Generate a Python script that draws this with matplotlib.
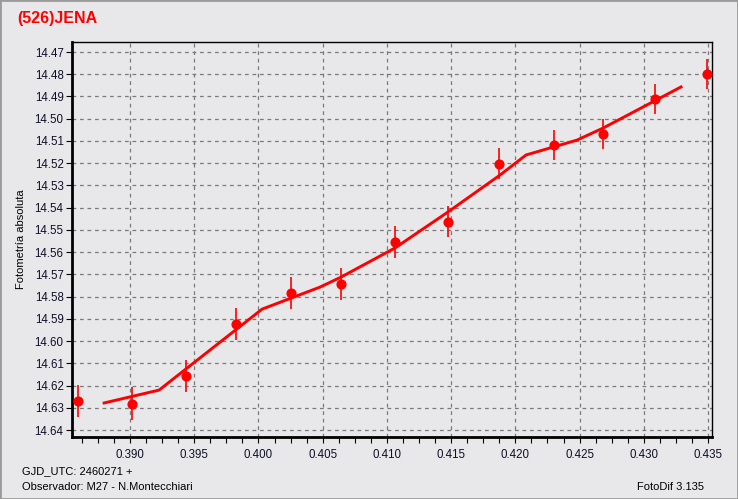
import matplotlib.pyplot as plt
import numpy as np
from matplotlib.ticker import MultipleLocator, AutoMinorLocator, FormatStrFormatter
from matplotlib.patches import Rectangle

# observations (GJD - 2460271, magnitude, error)
obs_t = [0.38593, 0.39016, 0.39434, 0.39825, 0.40254, 0.40643, 0.41063,
         0.41476, 0.41873, 0.42301, 0.42683, 0.43085, 0.43492]
obs_mag = [14.6268, 14.6281, 14.6155, 14.5924, 14.5782, 14.5742, 14.5553,
           14.5463, 14.5202, 14.5118, 14.5067, 14.4911, 14.4800]
obs_err = [0.0072, 0.0073, 0.0072, 0.0071, 0.0072, 0.0072, 0.0071,
           0.0069, 0.0069, 0.0067, 0.0068, 0.0068, 0.0068]

# fitted curve
fit_t = [0.38798, 0.39226, 0.40028, 0.40479, 0.40643, 0.41063, 0.41476,
         0.41881, 0.42083, 0.42480, 0.42683, 0.43290]
fit_mag = [14.6278, 14.6220, 14.5856, 14.5757, 14.5712, 14.5581, 14.5419,
           14.5253, 14.5163, 14.5096, 14.5042, 14.4857]

bg = '#e8e8ea'
plt.rcParams['font.family'] = ['Liberation Sans', 'DejaVu Sans']

fig = plt.figure(figsize=(7.38, 4.99), dpi=100, facecolor=bg)
ax = fig.add_axes([72 / 738, 1 - 437 / 499, 640 / 738, 395 / 499])
ax.set_facecolor(bg)

ax.plot(fit_t, fit_mag, color='#ff0000', lw=2.1, zorder=3)
ax.errorbar(obs_t, obs_mag, yerr=obs_err, fmt='o', color='#ff0000',
            ms=6.3, elinewidth=1.2, capsize=0, zorder=4, clip_on=False)

ax.set_xlim(0.38548, 0.43531)
ax.set_ylim(14.6431, 14.4655)

ax.xaxis.set_major_locator(MultipleLocator(0.005))
ax.xaxis.set_minor_locator(AutoMinorLocator(4))
ax.xaxis.set_major_formatter(FormatStrFormatter('%.3f'))
ax.yaxis.set_major_locator(MultipleLocator(0.01))
ax.yaxis.set_major_formatter(FormatStrFormatter('%.2f'))

ax.grid(True, which='major', color='#7a7a7a', linestyle=(0, (3, 3)), lw=0.9)
ax.tick_params(axis='both', which='major', labelsize=8.3, length=4, width=0.8,
               direction='out', labelcolor='#101028', pad=2)
ax.tick_params(axis='x', which='major', pad=5)
ax.tick_params(axis='x', which='minor', length=4, width=0.8, direction='out')

for s in ['left', 'bottom']:
    ax.spines[s].set_linewidth(2)
for s in ['top', 'right']:
    ax.spines[s].set_linewidth(1)

ax.set_ylabel('Fotometría absoluta', fontsize=8, labelpad=6)

fig.text(17 / 738, 1 - 19 / 499, '(526)JENA', color='#ff0000', fontsize=11.5,
         fontweight='bold', va='center', ha='left')
fig.text(22 / 738, 1 - 471 / 499, 'GJD_UTC: 2460271 +', fontsize=8, va='center')
fig.text(22 / 738, 1 - 487 / 499, 'Observador: M27 - N.Montecchiari',
         fontsize=8, va='center')
fig.text(704 / 738, 1 - 487 / 499, 'FotoDif 3.135', fontsize=8,
         va='center', ha='right')

fig.patches.append(Rectangle((0, 0), 1, 1, transform=fig.transFigure,
                             fill=False, edgecolor='#9a9a9a', lw=2))

fig.savefig('out.png', dpi=100, facecolor=bg)
